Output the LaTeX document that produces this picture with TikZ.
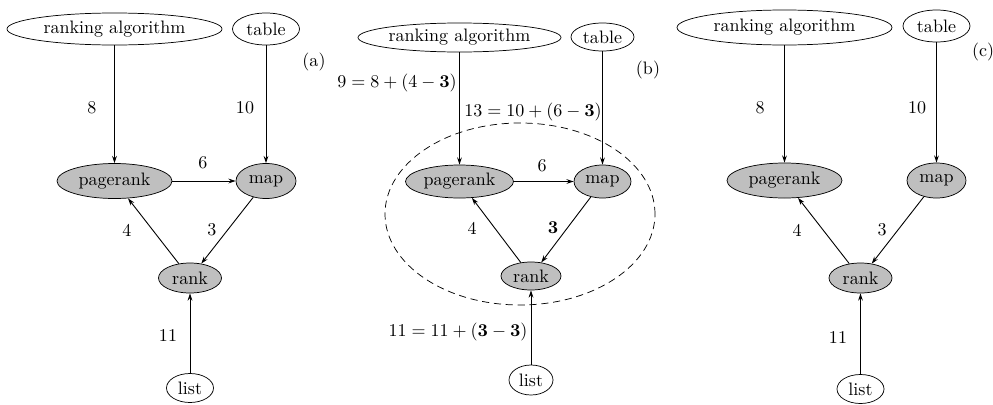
\documentclass[tikz,border=0pt]{standalone}
\usetikzlibrary{shapes.geometric,arrows.meta}
\begin{document}
\begin{tikzpicture}[x=0.555pt,y=-0.555pt,
  ell/.style 2 args={ellipse, draw, inner sep=0pt, minimum width=#1*0.555pt, minimum height=#2*0.555pt},
  op/.style={fill=lightgray},
  arr/.style={line width=0.5pt,-{Stealth[length=4pt,width=2.6pt]}},
  lbl/.style={inner sep=0pt}]
\useasboundingbox (0,0) rectangle (993,404);
% ---------- (a)
\node[ell={215}{32}] (ra) at (114.5,29) {ranking algorithm};
\node[ell={67}{32}] (ta) at (266,29) {table};
\node[ell={115}{35},op] (pa) at (114.5,181) {pagerank};
\node[ell={60}{35},op] (ma) at (266,181) {map};
\node[ell={63}{30},op] (rka) at (190,278) {rank};
\node[ell={47}{29}] (la) at (190,388) {list};
\node[lbl] (capa) at (314,62) {(a)};
\draw[arr] (ra) -- (pa);
\draw[arr] (ta) -- (ma);
\draw[arr] (pa) -- (ma);
\draw[arr] (ma) -- (rka);
\draw[arr] (rka) -- (pa);
\draw[arr] (la) -- (rka);
\node[lbl] (a8) at (92,108) {8};
\node[lbl] (a10) at (245,108) {10};
\node[lbl] (a6) at (203,163) {6};
\node[lbl] (a4) at (127,230) {4};
\node[lbl] (a3) at (212,230) {3};
\node[lbl] (a11) at (168,335) {11};
% ---------- (b)
\node[ell={203}{29}] (rb) at (459.5,37.5) {ranking algorithm};
\node[ell={63}{28}] (tb) at (602.5,37) {table};
\node[ell={108}{33},op] (pb) at (459.5,181.5) {pagerank};
\node[ell={57}{33},op] (mb) at (602.5,181.5) {map};
\node[ell={60}{28},op] (rkb) at (531,276) {rank};
\node[ell={44}{30}] (lb) at (531,380) {list};
\node[lbl] (capb) at (648,70) {(b)};
\node[ell={270}{182}, dash pattern=on 4pt off 2.6pt] (grp) at (520,214) {};
\draw[arr] (rb) -- (pb);
\draw[arr] (tb) -- (mb);
\draw[arr] (pb) -- (mb);
\draw[arr] (mb) -- (rkb);
\draw[arr] (rkb) -- (pb);
\draw[arr] (lb) -- (rkb);
\node[lbl] (b9) at (397,83) {$9=8+(4-\mathbf{3})$};
\node[lbl] (b13) at (533,112) {$13=10+(6-\mathbf{3})$};
\node[lbl] (b6) at (542,166) {6};
\node[lbl] (b4) at (472,228) {4};
\node[lbl] (b3) at (553,228) {$\mathbf{3}$};
\node[lbl] (b11) at (458,332) {$11=11+(\mathbf{3}-\mathbf{3})$};
% ---------- (c)
\node[ell={215}{35}] (rc) at (784.5,27.5) {ranking algorithm};
\node[ell={67}{32}] (tc) at (936.5,26) {table};
\node[ell={115}{35},op] (pc) at (784.5,180.5) {pagerank};
\node[ell={59}{35},op] (mc) at (936.5,180.5) {map};
\node[ell={63}{30},op] (rkc) at (860.5,278) {rank};
\node[ell={47}{29}] (lc) at (860.5,389) {list};
\node[lbl] (capc) at (983,52) {(c)};
\draw[arr] (rc) -- (pc);
\draw[arr] (tc) -- (mc);
\draw[arr] (mc) -- (rkc);
\draw[arr] (rkc) -- (pc);
\draw[arr] (lc) -- (rkc);
\node[lbl] (c8) at (760,108) {8};
\node[lbl] (c10) at (917,108) {10};
\node[lbl] (c4) at (797,230) {4};
\node[lbl] (c3) at (882,230) {3};
\node[lbl] (c11) at (838,337) {11};
\end{tikzpicture}
\end{document}
